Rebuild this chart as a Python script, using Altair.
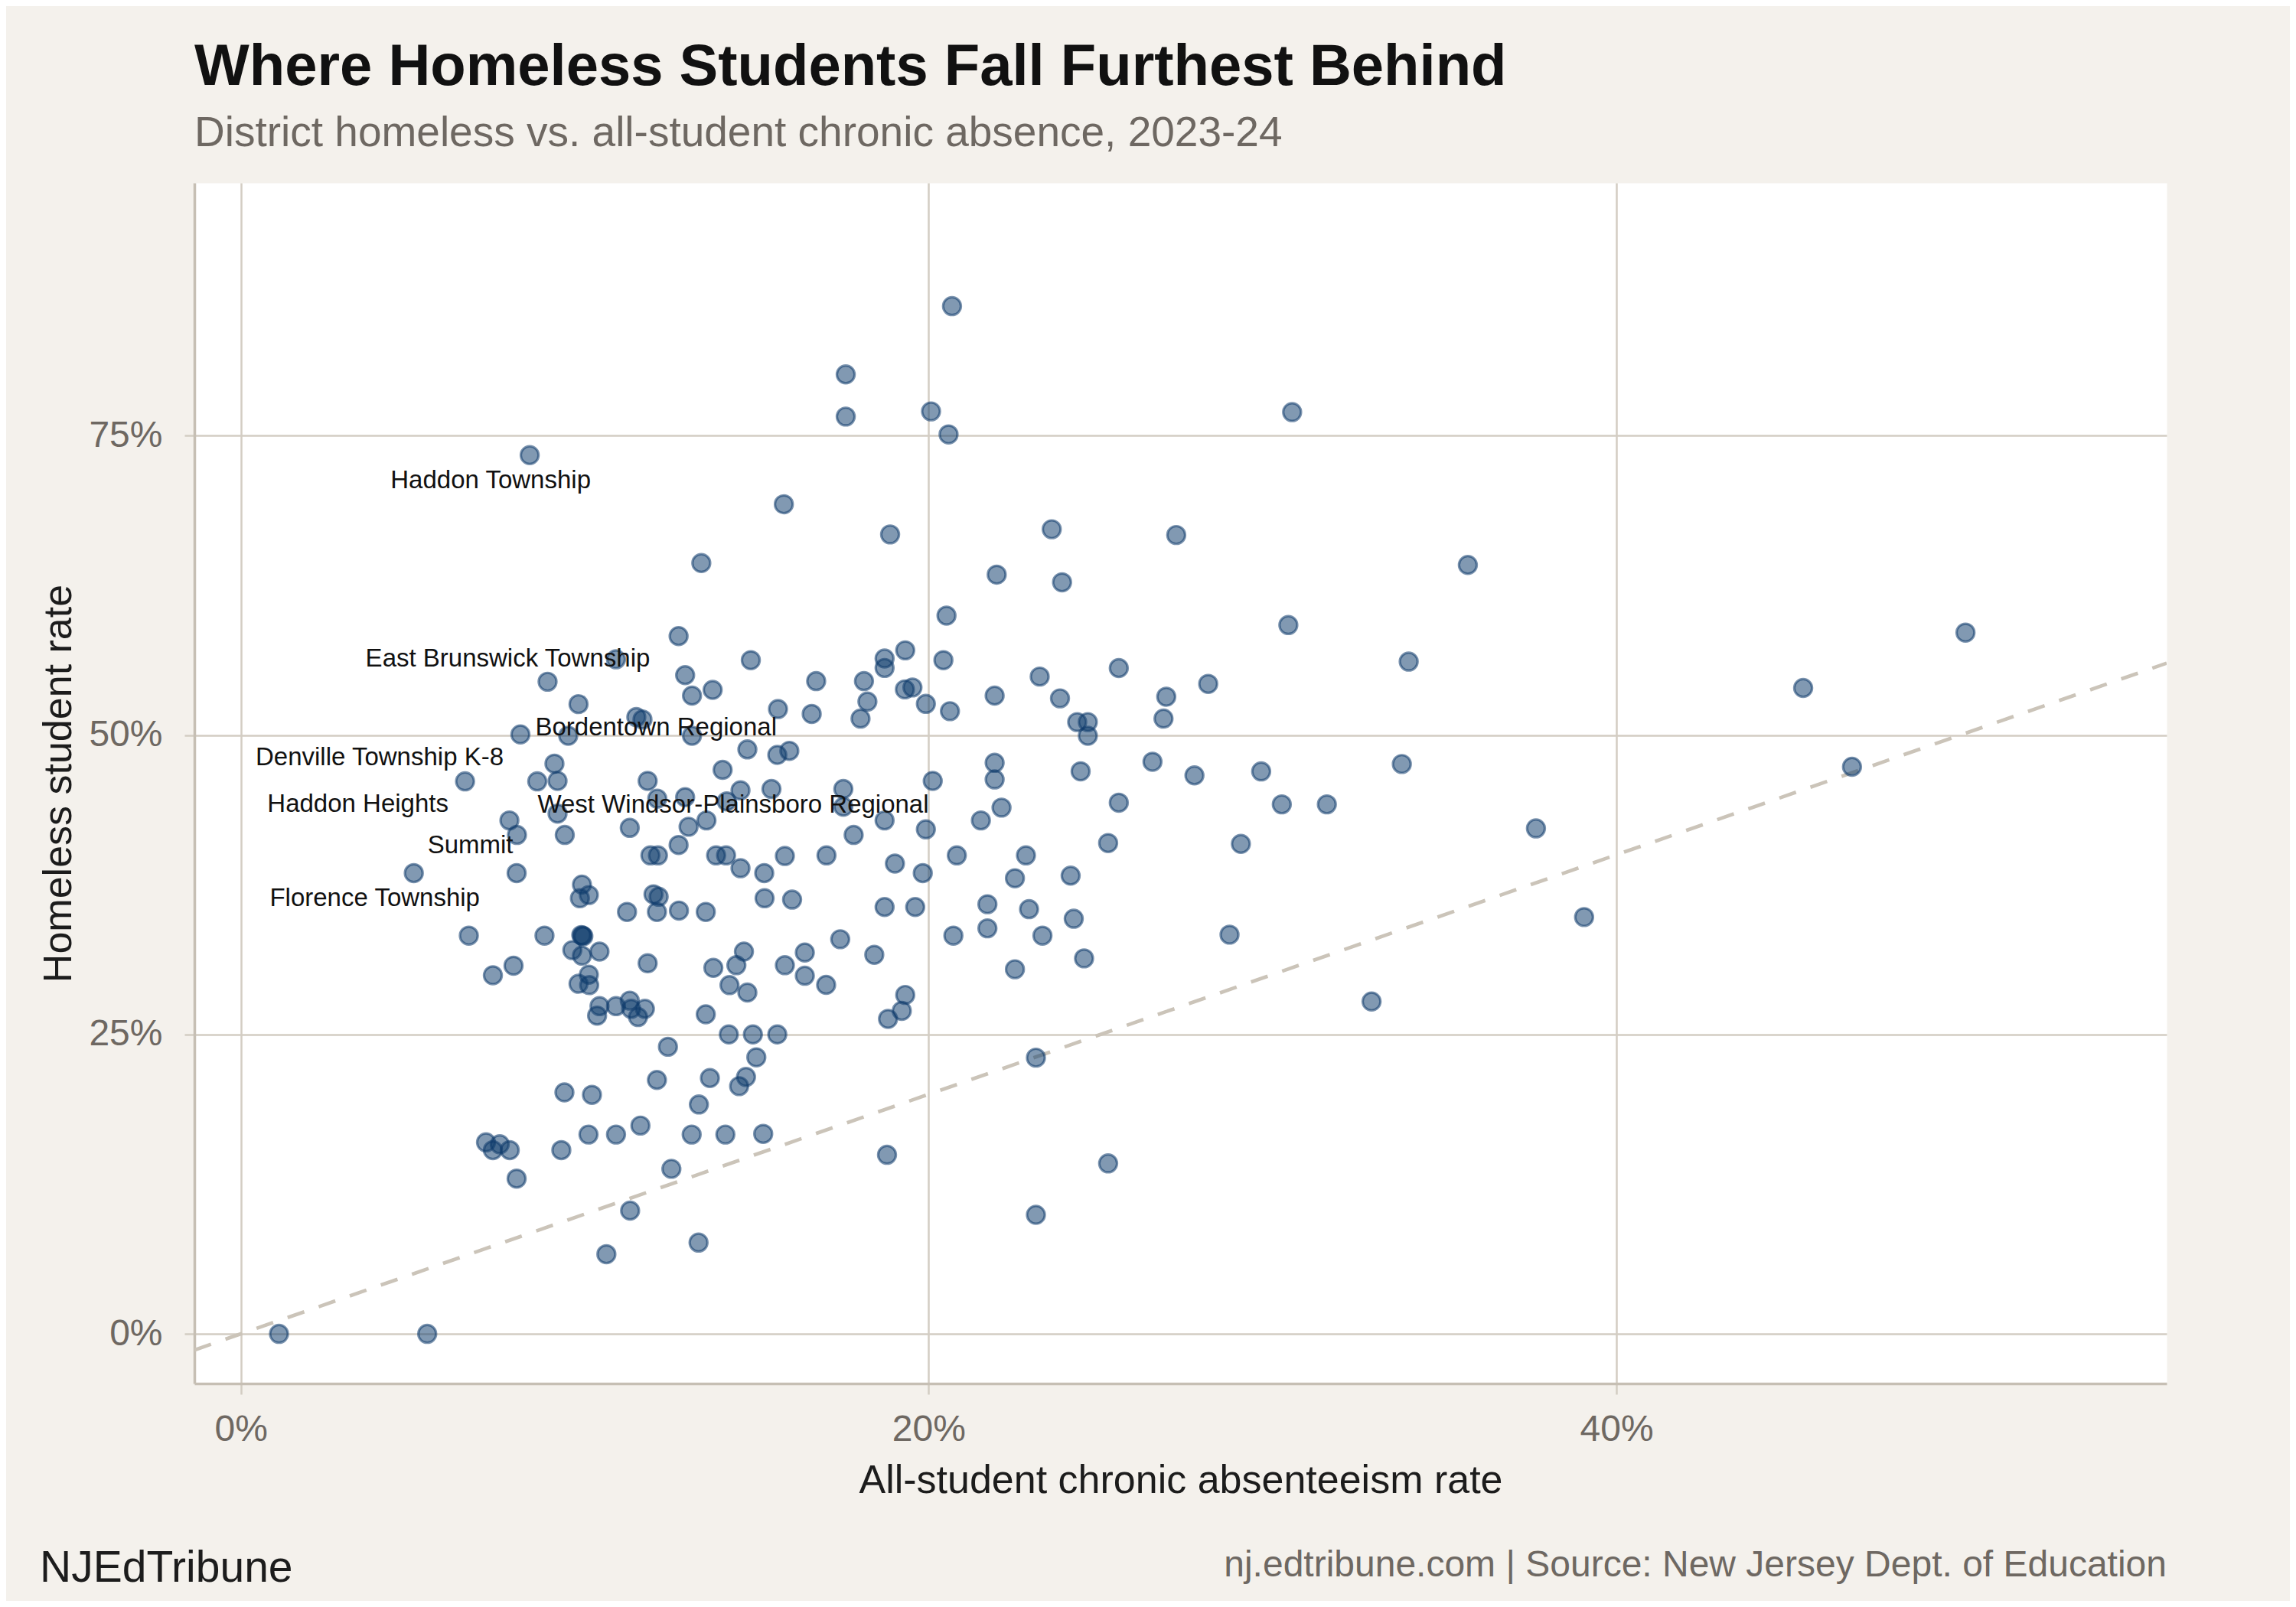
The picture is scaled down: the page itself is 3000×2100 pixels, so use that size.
import altair as alt
import pandas as pd

# District values (percent)
absence = [
    20.68, 17.59, 17.59, 20.07, 20.58, 15.79, 18.88, 13.39, 21.98, 23.58, 23.88, 27.2, 8.40,
    30.57, 35.68, 30.46, 33.96, 45.43, 50.15, 29.67, 33.76, 30.27, 31.58, 29.08, 37.66, 46.85,
    28.75, 39.06, 32.88,
    12.73, 10.91, 14.83, 8.92, 12.92, 13.12, 13.72, 9.82, 15.62, 16.60, 11.50, 11.68, 8.13,
    9.52, 13.12, 14.73, 15.60, 15.95, 9.12, 14.01, 6.52, 8.62, 9.21, 11.83, 14.53, 15.43,
    12.11, 12.92, 14.13, 9.21, 7.81, 8.03, 9.42, 11.31, 13.02, 13.54, 12.73, 11.91, 12.13,
    13.82, 14.11, 15.82, 14.53, 15.22, 5.03, 8.02, 9.92, 10.12, 9.86, 12.00, 12.15, 12.10,
    11.23, 12.74, 13.52, 15.23, 16.03, 6.63, 8.83, 9.90, 9.96, 9.93, 9.64, 10.43, 9.92,
    11.83, 7.93, 7.33, 10.12, 9.82, 10.13, 13.74, 14.41, 14.63, 14.21, 14.73, 15.82, 16.40,
    16.40, 10.43, 10.91, 11.31, 11.35, 11.75, 10.36, 11.55, 13.52,
    20.52, 19.32, 18.72, 18.72, 16.73, 18.12, 18.22, 18.02, 19.31, 19.53, 19.92, 20.43,
    20.62, 21.92, 23.23, 23.82, 25.53, 24.32, 24.63, 24.63, 26.91, 26.83, 28.13, 21.92,
    21.92, 20.12, 24.42, 26.51, 27.73, 17.52, 17.52, 22.12, 25.53, 18.72, 19.92, 21.52,
    17.82, 17.03, 20.82, 22.83, 25.22, 19.02, 19.83, 22.51, 24.13, 18.72, 19.61, 21.71,
    22.92, 24.22, 17.43, 18.42, 20.72, 21.71, 23.31, 24.52, 22.51, 17.02, 19.32, 19.22,
    18.82,
    14.19, 14.89, 15.60, 14.99, 14.69, 14.49, 15.19, 18.79, 23.12, 25.22, 23.12, 12.42,
    12.10, 13.64, 9.41, 10.21, 13.32, 7.13, 7.53, 7.33, 7.82, 9.32, 10.11, 10.91, 11.62,
    13.11, 14.09, 8.02, 12.52, 11.32, 13.31, 10.63, 1.11, 5.42,
]
homeless = [
    85.81, 80.11, 76.59, 77.02, 75.10, 69.27, 66.75, 64.36, 63.39, 67.18, 62.75, 66.7, 73.37,
    76.96, 64.20, 59.18, 56.13, 53.93, 58.55, 46.96, 47.58, 44.21, 44.21, 40.91, 42.20, 47.35,
    33.33, 34.80, 27.75,
    58.26, 56.32, 56.25, 54.45, 55.00, 53.29, 53.77, 52.58, 52.17, 51.76, 51.50, 51.30, 50.05,
    49.94, 49.94, 48.80, 48.34, 48.68, 47.61, 47.09, 46.13, 46.13, 46.17, 46.17, 45.38, 45.49,
    44.69, 44.81, 44.46, 43.44, 42.87, 41.66, 41.66, 42.25, 42.34, 42.87, 40.82, 39.95, 39.95,
    39.95, 39.95, 39.90, 38.88, 38.47, 38.47, 38.47, 37.51, 36.64, 36.37, 36.70, 36.50, 35.23,
    35.23, 35.34, 35.23, 36.37, 36.26, 33.25, 33.25, 33.30, 33.20, 33.25, 32.04, 31.92, 31.58,
    30.94, 30.74, 29.94, 29.99, 29.23, 29.12, 30.56, 30.78, 31.92, 29.12, 28.50, 30.78, 31.84,
    29.90, 27.36, 27.36, 27.82, 27.14, 27.14, 26.57, 26.45, 26.68,
    59.97, 57.07, 56.39, 55.60, 54.50, 54.50, 52.79, 51.37, 53.81, 53.97, 52.60, 56.25,
    51.99, 53.29, 54.88, 53.06, 55.59, 51.08, 51.08, 49.94, 53.20, 51.37, 54.27, 47.68,
    46.29, 46.17, 46.97, 47.77, 46.63, 45.49, 44.01, 43.94, 44.35, 42.87, 42.12, 42.87,
    41.66, 39.95, 39.95, 39.95, 40.98, 39.27, 38.47, 38.04, 38.26, 35.64, 35.64, 35.87,
    35.46, 34.66, 32.95, 31.65, 33.25, 33.86, 33.25, 31.35, 30.44, 29.14, 28.30, 26.97,
    26.30,
    25.00, 25.00, 25.00, 23.09, 21.45, 20.68, 16.70, 14.95, 23.06, 14.23, 9.94, 23.97,
    21.20, 21.36, 20.16, 19.96, 19.15, 15.99, 15.83, 15.34, 15.34, 15.34, 16.64, 16.64, 17.39,
    16.64, 16.64, 12.96, 13.78, 10.29, 7.62, 6.65, 0.00, 0.00,
]

# Labelled districts
label_names = [
    "Haddon Township", "East Brunswick Township", "Bordentown Regional",
    "Denville Township K-8", "Haddon Heights", "Summit",
    "West Windsor-Plainsboro Regional", "Florence Township",
]
label_absence = [8.40, 8.92, 13.12, 8.13, 6.52, 7.81, 15.43, 5.03]
label_homeless = [73.37, 54.45, 53.29, 50.05, 46.13, 42.87, 45.49, 38.47]

x_ticks = [0, 20, 40]
y_ticks = [0, 25, 50, 75]
x_domain = [-1.35, 56.0]
y_domain = [-4.15, 96.1]

title = "Where Homeless Students Fall Furthest Behind"
subtitle = "District homeless vs. all-student chronic absence, 2023-24"
caption_left = "NJEdTribune"
caption_right = "nj.edtribune.com | Source: New Jersey Dept. of Education"

FONT = "Liberation Sans"
GREY = "#6e6862"
INK = "#1c1c1c"
W, H = 2577, 1569

df = pd.DataFrame({"absence": absence, "homeless": homeless})
labels = pd.DataFrame({"name": label_names, "absence": label_absence, "homeless": label_homeless})
# parity line y = x across the visible x range
parity = pd.DataFrame({"absence": x_domain, "homeless": x_domain})

axis_style = dict(
    grid=True, gridColor="#d3cdc3", gridWidth=2.5,
    domain=True, domainColor="#c6bfb4", domainWidth=3.5,
    ticks=True, tickColor="#d3cdc3", tickWidth=2.5,
    labelFont=FONT, labelFontSize=48, labelColor=GREY,
    titleFont=FONT, titleFontSize=52, titleColor=INK, titleFontWeight="normal",
    labelExpr="datum.value + '%'",
)

x_enc = alt.X(
    "absence:Q",
    scale=alt.Scale(domain=x_domain, nice=False, zero=False),
    axis=alt.Axis(values=x_ticks, title="All-student chronic absenteeism rate",
                  tickSize=14, labelPadding=22, titleY=142, titleBaseline="alphabetic",
                  **axis_style),
)
y_enc = alt.Y(
    "homeless:Q",
    scale=alt.Scale(domain=y_domain, nice=False, zero=False),
    axis=alt.Axis(values=y_ticks, title="Homeless student rate",
                  tickSize=13, labelPadding=29, titleX=-162, titleBaseline="alphabetic",
                  **axis_style),
)

line = alt.Chart(parity).mark_line(
    color="#cbc4b9", strokeWidth=4.7, strokeDash=[23, 20], clip=True
).encode(x=x_enc, y=y_enc)

points = alt.Chart(df).mark_circle(
    size=540, fill="#0e3b6b", fillOpacity=0.52,
    stroke="#0e3b6b", strokeOpacity=0.55, strokeWidth=3.2,
).encode(x=x_enc, y=y_enc)

# label offsets in pixels (repelled positions)
offsets = {
    "Haddon Township": (-51, 43),
    "East Brunswick Township": (-52, -20),
    "Bordentown Regional": (-47, 52),
    "Denville Township K-8": (-184, 40),
    "Haddon Heights": (-140, 40),
    "Summit": (-51, 43),
    "West Windsor-Plainsboro Regional": (-50, 31),
    "Florence Township": (-51, 43),
}
label_layers = []
for name, (dx, dy) in offsets.items():
    label_layers.append(
        alt.Chart(labels).transform_filter(alt.datum.name == name).mark_text(
            dx=dx, dy=dy, align="center", baseline="alphabetic",
            font=FONT, fontSize=33, color="#111111",
        ).encode(x=x_enc, y=y_enc, text="name:N")
    )

cap_left = alt.Chart(pd.DataFrame({"t": [caption_left]})).mark_text(
    align="left", baseline="alphabetic", font=FONT, fontSize=57, color=INK
).encode(x=alt.value(52 - 254), y=alt.value(2067 - 239), text="t:N")

cap_right = alt.Chart(pd.DataFrame({"t": [caption_right]})).mark_text(
    align="right", baseline="alphabetic", font=FONT, fontSize=48, color=GREY
).encode(x=alt.value(W), y=alt.value(2060 - 239), text="t:N")

chart = alt.layer(line, points, *label_layers, cap_left, cap_right).properties(
    width=W,
    height=H,
    title=alt.TitleParams(
        text=title, subtitle=subtitle, anchor="start", frame="group",
        font=FONT, fontSize=76, fontWeight="bold", color="#111111",
        subtitleFont=FONT, subtitleFontSize=55, subtitleColor=GREY,
        subtitlePadding=21, offset=36,
    ),
    autosize=alt.AutoSizeParams(type="none"),
    padding={"left": 246, "top": 231, "right": 161, "bottom": 284},
    background="#f4f1ec",
).configure_view(fill="#ffffff", strokeOpacity=0)

chart.save("out.html", embed_options={"renderer": "svg", "actions": False})
